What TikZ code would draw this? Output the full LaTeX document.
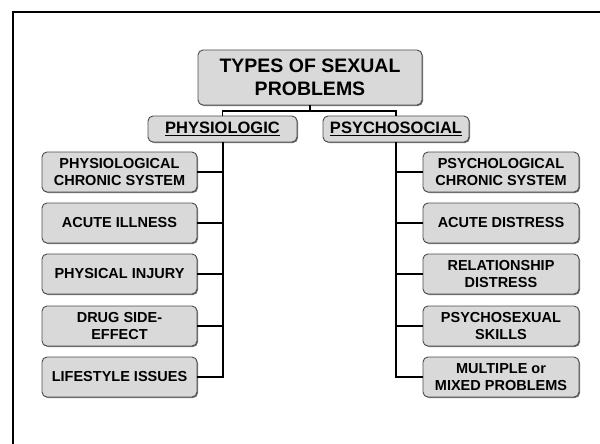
\documentclass[tikz,border=0pt]{standalone}
\usepackage{fontspec}
\setmainfont{Liberation Sans}
\usetikzlibrary{shadows}
\begin{document}
\begin{tikzpicture}[x=1pt,y=-1pt,
  boxbase/.style={draw=black!70, fill=black!15, rounded corners=5pt, line width=0.9pt,
    align=center, inner sep=0pt,
    drop shadow={shadow xshift=1pt, shadow yshift=-1pt, fill=black!55, opacity=1}},
  itembox/.style={boxbase, minimum height=40pt, font=\bfseries\fontsize{14.5}{17}\selectfont},
  lbox/.style={itembox, minimum width=155pt},
  rbox/.style={itembox, minimum width=156pt},
  catbox/.style={boxbase, minimum height=26pt, font=\bfseries\fontsize{16.5}{19}\selectfont},
  topbox/.style={boxbase, minimum width=224pt, minimum height=55pt, font=\bfseries\fontsize{19.5}{23}\selectfont},
  conn/.style={draw=black, line width=1.2pt},
  trunk/.style={draw=black, line width=2pt}
]
\useasboundingbox (0,0) rectangle (600,444);
\draw[line width=2.2pt] (13,444) -- (13,12) -- (600,12);

\node[topbox] (top) at (310,77.5) {TYPES OF SEXUAL\\PROBLEMS};
\node[catbox, minimum width=149pt] (phys) at (222.5,129) {\underline{PHYSIOLOGIC}};
\node[catbox, minimum width=146pt] (psy) at (396,129) {\underline{PSYCHOSOCIAL}};

\node[lbox] (l1) at (119.5,172) {PHYSIOLOGICAL\\CHRONIC SYSTEM};
\node[lbox] (l2) at (119.5,223) {ACUTE ILLNESS};
\node[lbox] (l3) at (119.5,274) {PHYSICAL INJURY};
\node[lbox] (l4) at (119.5,326) {DRUG SIDE-\\EFFECT};
\node[lbox] (l5) at (119.5,377) {LIFESTYLE ISSUES};

\node[rbox] (r1) at (501,172) {PSYCHOLOGICAL\\CHRONIC SYSTEM};
\node[rbox] (r2) at (501,223) {ACUTE DISTRESS};
\node[rbox] (r3) at (501,274) {RELATIONSHIP\\DISTRESS};
\node[rbox] (r4) at (501,326) {PSYCHOSEXUAL\\SKILLS};
\node[rbox] (r5) at (501,377) {MULTIPLE or\\MIXED PROBLEMS};

\draw[conn] (top.south) -- (top.south |- 0,111) -| (phys.north);
\draw[conn] (top.south |- 0,111) -| (psy.north);

\draw[trunk] (phys.south) -- (phys.south |- l5.east) -- (l5.east);
\foreach \n in {l1,l2,l3,l4} \draw[conn] (\n.east) -- (\n.east -| phys.south);

\draw[trunk] (psy.south) -- (psy.south |- r5.west) -- (r5.west);
\foreach \n in {r1,r2,r3,r4} \draw[conn] (\n.west) -- (\n.west -| psy.south);
\end{tikzpicture}
\end{document}
